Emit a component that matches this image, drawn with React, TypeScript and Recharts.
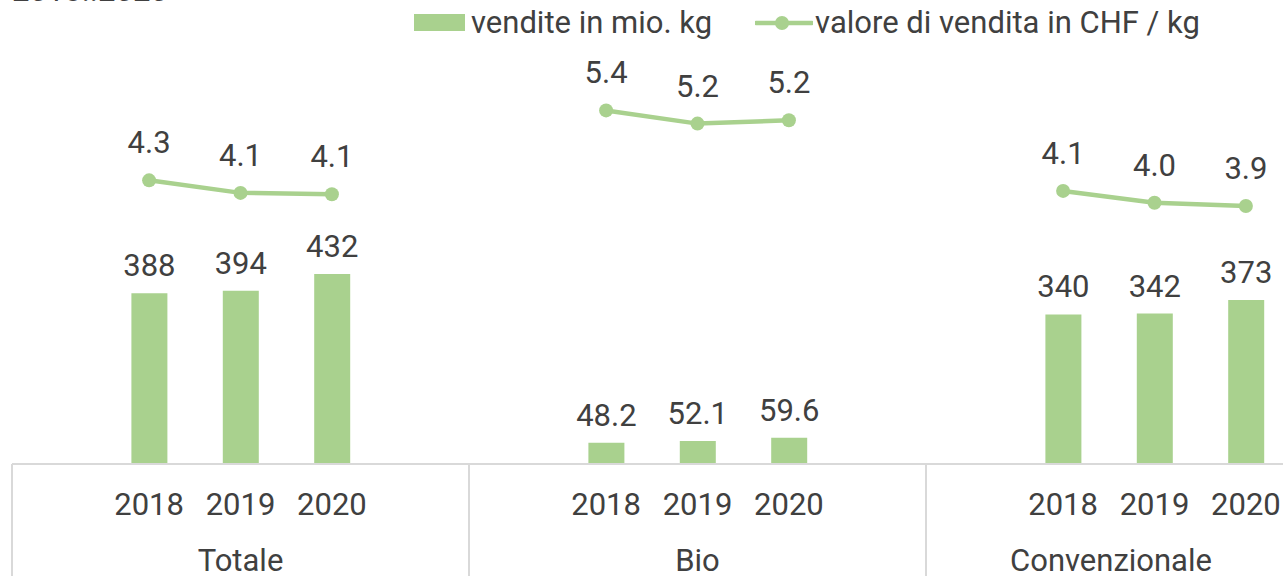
import React from 'react';
import { ComposedChart, Bar, Line, XAxis, YAxis, LabelList, Legend } from 'recharts';

const groups = ['Totale', 'Bio', 'Convenzionale'];
const years = ['2018', '2019', '2020'];
const sales = [
  [388, 394, 432],
  [48.2, 52.1, 59.6],
  [340, 342, 373],
];
const prices = [
  [4.3, 4.11, 4.09],
  [5.36, 5.16, 5.21],
  [4.14, 3.96, 3.91],
];

const GREEN = '#a9d18e';
const TEXT = '#404040';
const GRID = '#d9d9d9';
const FONT = 'Roboto, "Noto Sans", sans-serif';
const FS = 31;

type Row = { id: string; year: string; group: string; pos: number; sales: number | null; price: number | null };

// each group: blank, 3 years, blank
const data: Row[] = [];
groups.forEach((g, gi) => {
  data.push({ id: `${g}-a`, year: '', group: g, pos: 0, sales: null, price: null });
  years.forEach((y, yi) => {
    data.push({ id: `${g}-${y}`, year: y, group: g, pos: yi + 1, sales: sales[gi][yi], price: prices[gi][yi] });
  });
  data.push({ id: `${g}-b`, year: '', group: g, pos: 4, sales: null, price: null });
});

const CHART_W = 1400;
const CHART_H = 640;
const M = { top: 24, left: 12, right: 17, bottom: 0 };
const PLOT_H = 440;
const BAND = (CHART_W - M.left - M.right) / data.length;
const GROUP_LABEL_MAX_X = 1111;

const Tick = (props: any) => {
  const { x, index } = props;
  const row = data[index];
  if (!row) return <g />;
  const axisY = M.top + PLOT_H;
  return (
    <g>
      {row.year && (
        <text x={x} y={axisY + 51} textAnchor="middle" fill={TEXT} fontSize={FS} fontFamily={FONT}>
          {row.year}
        </text>
      )}
      {row.pos === 2 && (
        <text x={Math.min(x, GROUP_LABEL_MAX_X)} y={axisY + 107} textAnchor="middle" fill={TEXT} fontSize={FS} fontFamily={FONT}>
          {row.group}
        </text>
      )}
      {row.pos === 0 && (
        <line x1={x - BAND / 2} x2={x - BAND / 2} y1={axisY} y2={axisY + 200} stroke={GRID} strokeWidth={2} />
      )}
    </g>
  );
};

const LegendContent = () => (
  <div style={{ display: 'flex', alignItems: 'center', fontFamily: FONT, fontSize: FS, color: TEXT, whiteSpace: 'nowrap' }}>
    <div style={{ width: 51, height: 17, background: GREEN, marginRight: 6 }} />
    <span>vendite in mio. kg</span>
    <svg width={58} height={20} style={{ marginLeft: 43, marginRight: 2 }}>
      <line x1={1} x2={57} y1={10} y2={10} stroke={GREEN} strokeWidth={4.5} strokeLinecap="round" />
      <circle cx={27} cy={10} r={7} fill={GREEN} />
    </svg>
    <span>valore di vendita in CHF / kg</span>
  </div>
);

export default function App() {
  return (
    <div style={{ position: 'fixed', left: 0, top: 0, width: 1283, height: 576, overflow: 'hidden', background: '#fff' }}>
      <div style={{ position: 'absolute', left: 12, top: -24, fontFamily: FONT, fontSize: FS, color: TEXT, lineHeight: '30px' }}>
        2018..2020
      </div>
      <ComposedChart width={CHART_W} height={CHART_H} data={data} margin={M} style={{ fontFamily: FONT }}>
        <XAxis
          dataKey="id"
          interval={0}
          tick={<Tick />}
          tickLine={false}
          axisLine={{ stroke: GRID, strokeWidth: 2 }}
          height={CHART_H - M.top - PLOT_H}
        />
        <YAxis yAxisId="left" hide domain={[0, 1000]} />
        <YAxis yAxisId="right" hide orientation="right" domain={[0, 6.67]} />
        <Legend
          layout="horizontal"
          verticalAlign="middle"
          align="center"
          wrapperStyle={{ top: 4, left: 414, width: 900, height: 36 }}
          content={<LegendContent />}
        />
        <Bar yAxisId="left" dataKey="sales" fill={GREEN} barSize={36} isAnimationActive={false}>
          <LabelList
            dataKey="sales"
            position="top"
            offset={17}
            fill={TEXT}
            fontSize={FS}
            fontFamily={FONT}
            formatter={(v: any) => (v == null ? '' : String(v))}
          />
        </Bar>
        <Line
          yAxisId="right"
          dataKey="price"
          stroke={GREEN}
          strokeWidth={4.5}
          dot={{ r: 7, fill: GREEN, stroke: 'none' }}
          activeDot={false}
          isAnimationActive={false}
        >
          <LabelList
            dataKey="price"
            position="top"
            offset={27}
            fill={TEXT}
            fontSize={FS}
            fontFamily={FONT}
            formatter={(v: any) => (v == null ? '' : Number(v).toFixed(1))}
          />
        </Line>
      </ComposedChart>
    </div>
  );
}
